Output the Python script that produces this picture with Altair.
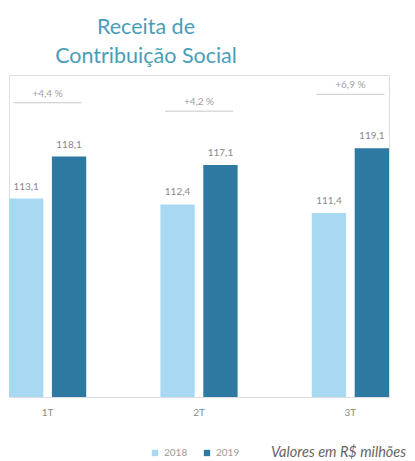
import altair as alt
import pandas as pd

quarters = ["1T", "2T", "3T"]
years = ["2018", "2019"]
values_2018 = [113.1, 112.4, 111.4]
values_2019 = [118.1, 117.1, 119.1]
growth_labels = ["+4,4 %", "+4,2 %", "+6,9 %"]

BASE = 89.5
TOP = 127.8

rows = []
for q, a, b in zip(quarters, values_2018, values_2019):
    for ano, v in (("2018", a), ("2019", b)):
        rows.append({"q": q, "ano": ano, "v": v, "base": BASE,
                     "lbl": f"{v:.1f}".replace(".", ",")})
bars_df = pd.DataFrame(rows)

ann_rows = []
for q, a, b, g in zip(quarters, values_2018, values_2019, growth_labels):
    lvl = max(a, b) + 6.4
    ann_rows.append({"q": q, "g": g, "lvl": lvl})
ann_df = pd.DataFrame(ann_rows)

x = alt.X("q:N", sort=quarters,
          scale=alt.Scale(paddingInner=0.49, paddingOuter=0),
          axis=alt.Axis(title=None, domain=False, ticks=False, labelAngle=0,
                        labelColor="#8a8a8a", labelFontSize=10, labelFont="Lato",
                        labelPadding=10))
xo = alt.XOffset("ano:N", sort=years, scale=alt.Scale(paddingInner=0.2))
yscale = alt.Scale(domain=[BASE, TOP], zero=False, nice=False)

bars = alt.Chart(bars_df).mark_bar().encode(
    x=x, xOffset=xo,
    y=alt.Y("v:Q", scale=yscale, axis=None),
    y2="base:Q",
    color=alt.Color("ano:N", sort=years,
                    scale=alt.Scale(domain=years, range=["#a9d9f2", "#2d79a2"]),
                    legend=alt.Legend(orient="none", legendX=141, legendY=373,
                                      direction="horizontal", symbolType="square",
                                      symbolSize=40, labelFontSize=10,
                                      labelColor="#9a9a9a", labelFont="Lato",
                                      title="Valores em R$ milhões",
                                      titleOrient="right", titleFontStyle="italic",
                                      titleFontWeight="normal", titleFontSize=14.5,
                                      titleFont="Lato", titleColor="#666666",
                                      titlePadding=32, columnPadding=14)),
)

labels = alt.Chart(bars_df).mark_text(
    baseline="bottom", dy=-7, fontSize=10, color="#8a8a8a", font="Lato"
).encode(x=x, xOffset=xo, y=alt.Y("v:Q", scale=yscale, axis=None), text="lbl:N")

ann_text = alt.Chart(ann_df).mark_text(
    baseline="bottom", dy=-4, fontSize=10, color="#a0a0a0", font="Lato"
).encode(x=x, y=alt.Y("lvl:Q", scale=yscale, axis=None), text="g:N")

ann_line = alt.Chart(ann_df).mark_rule(color="#c8c8c8", strokeWidth=1).encode(
    x=alt.X("q:N", sort=quarters, bandPosition=0.06),
    x2=alt.X2("q", bandPosition=0.94),
    y=alt.Y("lvl:Q", scale=yscale, axis=None))

chart = alt.layer(bars, labels, ann_line, ann_text).properties(
    width=380, height=322,
    padding={"left": 1, "top": 8, "right": 0, "bottom": 0},
    title=alt.Title(["Receita de", "Contribuição Social"], anchor="start",
                    align="center", dx=137, fontSize=21.5, font="Lato",
                    fontWeight="normal", color="#4a9db8", lineHeight=29,
                    offset=8),
).configure_view(stroke=None).configure(background="#ffffff")

chart.save("out.html", embed_options={"renderer": "svg", "actions": False})
